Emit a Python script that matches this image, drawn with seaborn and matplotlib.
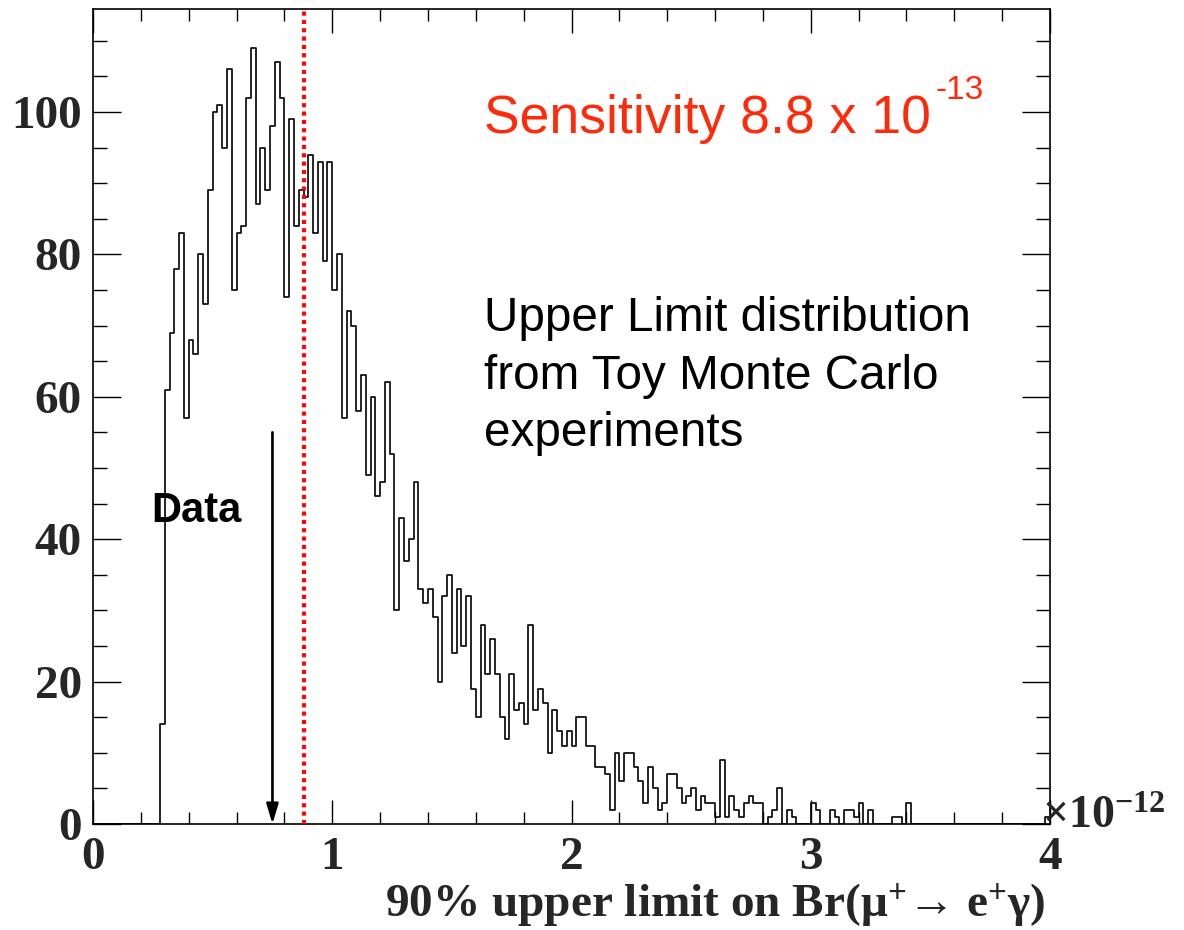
import numpy as np
import pandas as pd
import seaborn as sns
import matplotlib
matplotlib.use("Agg")
import matplotlib.pyplot as plt
from matplotlib.ticker import MultipleLocator

# Upper limits from toy Monte Carlo experiments, in units of 1e-12.
# Histogram: 200 bins of width 0.02 covering [0, 4).
x_min = 0.0
x_max = 4.0
n_bins = 200
counts = [
    0, 0, 0, 0, 0, 0, 0, 0, 0, 0,
    0, 0, 0, 0, 14, 61, 69, 78, 83, 57,
    68, 66, 80, 73, 89, 100, 101, 95, 106, 75,
    83, 84, 102, 109, 87, 95, 89, 98, 107, 102,
    74, 99, 84, 89, 88, 94, 83, 93, 79, 93,
    75, 80, 57, 72, 70, 58, 63, 49, 60, 46,
    48, 62, 52, 30, 43, 37, 40, 48, 33, 31,
    33, 29, 20, 32, 35, 24, 33, 25, 32, 19,
    15, 28, 21, 26, 21, 15, 12, 21, 16, 17,
    14, 28, 16, 19, 17, 10, 16, 13, 11, 13,
    11, 15, 15, 11, 11, 8, 8, 7, 2, 10,
    6, 10, 10, 8, 6, 3, 8, 5, 2, 3,
    7, 7, 5, 3, 4, 5, 2, 4, 3, 3,
    1, 9, 1, 4, 2, 1, 3, 4, 3, 3,
    0, 1, 2, 5, 0, 2, 1, 0, 0, 0,
    3, 2, 0, 0, 2, 1, 0, 2, 2, 1,
    3, 0, 2, 0, 0, 0, 0, 1, 1, 0,
    3, 0, 0, 0, 0, 0, 0, 0, 0, 0,
    0, 0, 0, 0, 0, 0, 0, 0, 0, 0,
    0, 0, 0, 0, 0, 0, 0, 0, 0, 1,
]
sensitivity = 0.88     # 8.8e-13
data_limit = 0.75      # observed upper limit
data_arrow_top = 55

x_ticks = [0, 1, 2, 3, 4]
y_ticks = [0, 20, 40, 60, 80, 100]

bin_width = (x_max - x_min) / n_bins
centers = x_min + bin_width * (np.arange(n_bins) + 0.5)
df = pd.DataFrame({"ul": centers, "n": np.asarray(counts, dtype=float)})

sns.set_theme(style="ticks")
plt.rcParams["font.family"] = ["Liberation Serif", "DejaVu Serif"]
plt.rcParams["font.weight"] = "bold"
plt.rcParams["mathtext.fontset"] = "custom"
plt.rcParams["mathtext.rm"] = "Liberation Serif:bold"
plt.rcParams["mathtext.bf"] = "Liberation Serif:bold"
plt.rcParams["mathtext.it"] = "Liberation Serif:bold:italic"

fig = plt.figure(figsize=(11.84, 9.30), dpi=100)
ax = fig.add_axes([93 / 1184, 1 - 824 / 930, (1050 - 93) / 1184, (824 - 9) / 930])

sns.histplot(data=df, x="ul", weights="n", binwidth=bin_width,
             binrange=(x_min, x_max), element="step",
             fill=False, color="black", linewidth=1.2, ax=ax)

ax.set_xlim(x_min, x_max)
ax.set_ylim(0, 1.05 * max(counts))

# sensitivity marker
ax.axvline(sensitivity, color="#f50a0a", linewidth=3.0, linestyle=(0, (1, 1.0)), zorder=3)

# observed limit
ax.annotate("", xy=(data_limit, 0), xytext=(data_limit, data_arrow_top),
            arrowprops=dict(arrowstyle="-|>,head_length=1.0,head_width=0.3",
                            color="black", lw=1.9, shrinkA=0, shrinkB=0))
sans = ["Liberation Sans", "DejaVu Sans"]
ax.text(0.434, 44, "Data", ha="center", va="center", fontsize=30,
        fontweight="bold", family=sans, color="black")

ax.text(1.636, 97.0, "Sensitivity 8.8 x 10", ha="left", va="baseline",
        fontsize=38.5, fontweight="normal", family=sans, color="#ff2a0a")
ax.text(3.52, 101.8, "-13", ha="left", va="baseline",
        fontsize=24, fontweight="normal", family=sans, color="#ff2a0a")

for txt, yb in [("Upper Limit distribution", 69.2),
                ("from Toy Monte Carlo", 61.1),
                ("experiments", 53.1)]:
    ax.text(1.636, yb, txt, ha="left", va="baseline", fontsize=34.3,
            fontweight="normal", family=sans, color="black")

ax.set_xticks(x_ticks)
ax.set_yticks(y_ticks)
ax.xaxis.set_minor_locator(MultipleLocator(0.2))
ax.yaxis.set_minor_locator(MultipleLocator(5))
ax.tick_params(which="both", direction="in", top=True, right=True,
               width=1.0, color="black", labelsize=34)
ax.tick_params(axis="x", which="major", length=17, pad=9)
ax.tick_params(axis="x", which="minor", length=8.5)
ax.tick_params(axis="y", which="major", length=20, pad=8)
ax.tick_params(axis="y", which="minor", length=10)
for lab in ax.get_xticklabels() + ax.get_yticklabels():
    lab.set_fontweight("bold")
for sp in ax.spines.values():
    sp.set_linewidth(1.2)
    sp.set_color("black")

ax.set_xlabel("")
ax.set_ylabel("")
ax.text(0.995, -0.1, "90% upper limit on Br(μ$^{+}$→ e$^{+}$γ)", transform=ax.transAxes,
        ha="right", va="center", fontsize=34, fontweight="bold")
ax.text(0.992, 0.009, "×10$^{-12}$", transform=ax.transAxes, ha="left",
        va="center", fontsize=33, fontweight="bold")

fig.savefig("out.png", dpi=100, facecolor="white")
